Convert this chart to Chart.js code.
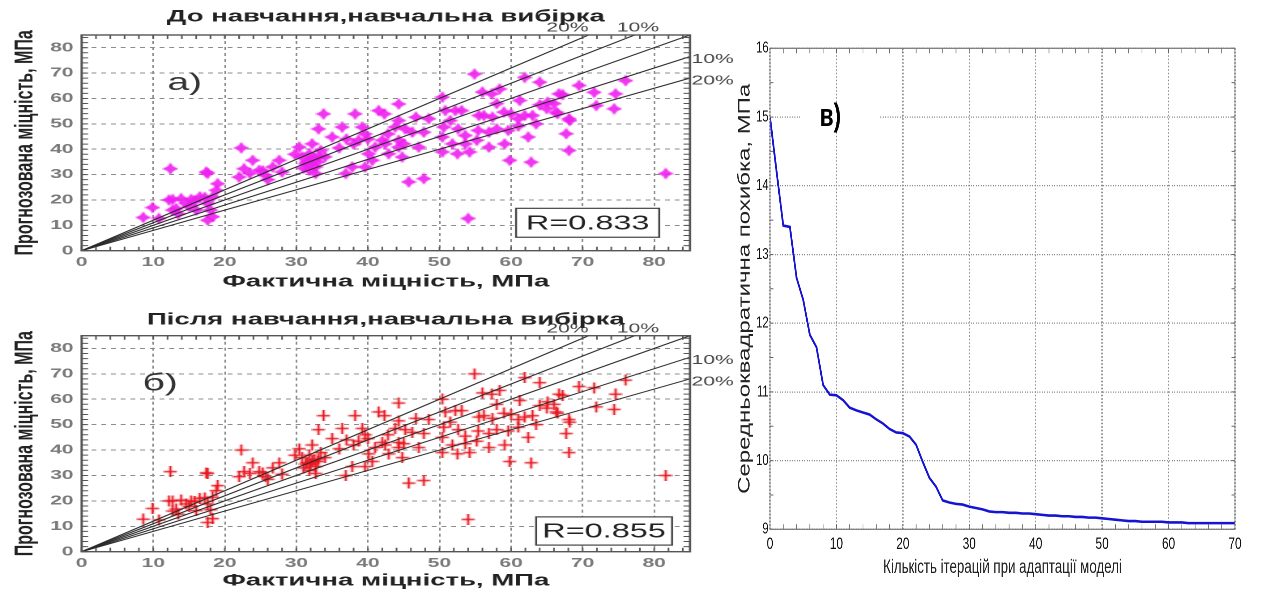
<!DOCTYPE html>
<html>
<head>
<meta charset="utf-8">
<script src="https://cdn.jsdelivr.net/npm/chart.js@4.4.1/dist/chart.umd.min.js"></script>
<style>
  html, body { margin: 0; padding: 0; background: #fff; }
  body { width: 1279px; height: 594px; position: relative; overflow: hidden; }
  .panel { position: absolute; transform-origin: 0 0; }
</style>
</head>
<body>
<div class="panel" style="left:0;top:0;transform:scaleX(1.62)"><canvas id="chartA"></canvas></div>
<div class="panel" style="left:0;top:301px;transform:scaleX(1.62)"><canvas id="chartB"></canvas></div>
<div class="panel" style="left:730px;top:0;transform:scaleX(0.7)"><canvas id="chartC"></canvas></div>
<script>
// --- data ---
const scatterTicks = [0, 10, 20, 30, 40, 50, 60, 70, 80];
const bandSlopes = [1.2, 1.1, 1.0, 0.9, 0.8];

const actualStrength = [
  8.6, 9.9, 10.8, 12.4, 12.2, 12.7, 13.2, 12.7, 13.9, 13.5, 14.6, 15.3, 15.0, 16.0, 16.5, 15.8, 17.6, 17.2, 18.3, 18.8, 19.0, 17.6, 18.3, 17.4, 17.6, 18.0,
  22.3, 22.0, 22.7, 23.9, 24.8, 25.7, 25.3, 26.7, 27.6, 28.0, 26.0, 23.5,
  29.8, 30.4, 30.8, 31.3, 31.8, 32.2, 32.7, 33.1, 31.8, 32.7, 33.4, 32.2, 33.8, 33.1, 31.5, 32.0, 32.5, 33.0, 31.0, 34.0,
  35.0, 36.4, 36.9, 37.8, 38.2, 38.7, 39.6, 39.2, 40.1, 40.6, 41.0, 39.6, 41.5, 42.0, 42.8, 43.8, 44.3, 44.3, 45.0, 45.2,
  45.7, 47.8, 37.0, 38.0, 40.0, 36.0, 42.3, 42.4, 42.9, 44.8, 44.3, 44.3, 46.7, 46.2, 47.8, 47.1, 48.5,
  50.4, 54.9, 61.9, 64.0, 58.4, 57.3, 56.0, 66.7, 69.5, 71.6, 74.6, 76.0, 71.9, 74.4, 61.2, 68.1, 67.7, 68.1, 59.8, 62.8,
  54.0, 81.6, 50.8, 52.2, 53.1, 51.5, 50.6, 52.6, 55.5, 56.2, 57.4, 59.0, 60.0, 61.9, 63.0, 61.0, 53.6, 55.4, 56.9, 58.0,
  59.6, 62.4, 61.0, 50.4, 51.8, 53.6, 52.5, 54.2, 50.4, 56.9, 59.1, 55.2, 65.0, 66.0, 63.5, 66.5, 58.0, 64.0,
  67.2, 65.1, 66.3, 68.2
];
const predictedBefore = [
  13.1, 17.0, 12.7, 32.3, 20.0, 20.2, 16.6, 16.0, 20.5, 14.5, 18.6, 20.2, 17.5, 16.0, 21.2, 19.5, 18.6, 21.0, 21.2, 23.8, 26.4, 12.0, 13.4, 31.0, 30.5, 16.0,
  40.5, 29.0, 32.3, 35.6, 31.7, 29.7, 31.5, 33.0, 35.6, 31.0, 28.0, 30.5,
  38.0, 40.8, 36.9, 34.3, 38.2, 35.6, 33.0, 36.9, 31.7, 30.4, 39.5, 42.1, 53.9, 48.0, 35.0, 34.0, 36.5, 35.0, 32.5, 37.0,
  44.8, 48.7, 30.4, 33.0, 53.9, 43.5, 46.0, 48.7, 38.2, 35.6, 40.8, 33.0, 55.2, 43.5, 46.0, 48.7, 57.8, 40.8, 42.1, 48.0,
  27.1, 28.4, 44.0, 42.0, 44.0, 40.5, 53.9, 42.1, 38.2, 36.9, 51.3, 43.5, 52.6, 46.7, 46.7, 40.8, 52.0,
  60.5, 69.6, 68.3, 66.4, 63.7, 61.8, 62.5, 61.8, 65.1, 62.4, 61.8, 67.0, 57.2, 55.9, 59.2, 52.0, 46.1, 39.5, 35.6, 34.9,
  12.7, 30.4, 55.2, 55.2, 55.2, 51.3, 48.7, 48.0, 53.3, 53.3, 52.6, 54.6, 53.9, 53.3, 53.3, 52.0, 45.4, 47.4, 46.7, 48.0,
  47.4, 44.8, 49.1, 44.8, 42.1, 42.1, 38.2, 38.9, 38.9, 40.8, 42.1, 43.5, 56.0, 58.0, 50.0, 54.0, 58.0, 57.5,
  61.5, 58.5, 54.6, 51.3
];
const predictedAfter = [
  12.8, 17.0, 12.5, 31.5, 20.0, 20.0, 16.8, 16.0, 20.3, 14.8, 18.8, 20.0, 17.8, 16.2, 21.0, 19.8, 18.8, 21.2, 21.5, 24.0, 26.0, 11.5, 13.0, 31.0, 30.8, 16.5,
  40.0, 29.5, 31.5, 35.0, 31.5, 29.5, 31.0, 33.0, 35.0, 30.5, 28.5, 30.8,
  38.0, 40.5, 37.0, 34.5, 38.0, 35.5, 33.5, 36.5, 32.0, 30.8, 39.0, 42.0, 53.5, 48.0, 35.0, 34.5, 36.0, 35.5, 33.0, 37.0,
  44.5, 48.5, 30.0, 33.5, 53.5, 43.5, 46.0, 48.5, 38.5, 35.5, 41.0, 33.5, 55.0, 43.0, 46.0, 48.5, 58.5, 41.0, 42.5, 48.0,
  27.0, 28.0, 44.0, 42.0, 44.5, 40.5, 53.5, 42.0, 38.5, 37.0, 51.5, 43.0, 52.5, 47.0, 46.5, 41.0, 52.0,
  60.0, 70.0, 68.5, 66.5, 63.5, 62.0, 62.5, 62.0, 65.0, 64.5, 62.0, 67.5, 57.0, 56.0, 59.5, 52.0, 46.5, 39.0, 35.5, 35.0,
  12.7, 30.0, 55.0, 55.5, 55.5, 51.0, 49.0, 48.0, 53.0, 53.5, 52.5, 54.5, 54.0, 53.0, 53.5, 52.0, 45.5, 47.5, 46.5, 48.0,
  47.5, 45.0, 49.0, 45.0, 42.0, 42.5, 38.5, 39.0, 39.0, 41.0, 42.0, 43.5, 56.5, 58.0, 50.0, 54.5, 58.0, 57.5,
  61.5, 59.0, 55.0, 51.0
];

const iterTicks = [0, 10, 20, 30, 40, 50, 60, 70];
const errorTicks = [9, 10, 11, 12, 13, 14, 15, 16];
const iterations = [
  0, 1, 2, 3, 4, 5, 6, 7, 8, 9, 10, 11, 12, 13, 14, 15, 16, 17, 18, 19, 20,
  21, 22, 23, 24, 25, 26, 27, 28, 29, 30, 31, 32, 33, 34, 35, 36, 37, 38, 39, 40,
  41, 42, 43, 44, 45, 46, 47, 48, 49, 50, 51, 52, 53, 54, 55, 56, 57, 58, 59, 60,
  61, 62, 63, 64, 65, 66, 67, 68, 69, 70
];
const rmseError = [
  15.00, 14.20, 13.42, 13.40, 12.66, 12.34, 11.83, 11.65, 11.10, 10.96, 10.95,
  10.88, 10.77, 10.73, 10.70, 10.67, 10.60, 10.54, 10.46, 10.41, 10.40,
  10.35, 10.23, 9.98, 9.75, 9.62, 9.42, 9.39, 9.37, 9.36, 9.33,
  9.31, 9.29, 9.26, 9.25, 9.25, 9.24, 9.24, 9.23, 9.23, 9.22,
  9.21, 9.20, 9.20, 9.19, 9.19, 9.18, 9.18, 9.17, 9.17, 9.16,
  9.15, 9.14, 9.13, 9.12, 9.12, 9.11, 9.11, 9.11, 9.11, 9.10,
  9.10, 9.10, 9.09, 9.09, 9.09, 9.09, 9.09, 9.09, 9.09, 9.09
];

const FONT = '"Liberation Sans", Arial, sans-serif';

// marker glyphs
function starMarker(color) {
  const c = document.createElement('canvas');
  c.width = 10; c.height = 12;
  const g = c.getContext('2d');
  const cx = 5, cy = 6, w = 5, h = 6, r = 0.38;
  g.fillStyle = color;
  g.globalAlpha = 0.9;
  g.beginPath();
  g.moveTo(cx, cy - h);
  g.lineTo(cx + w * r, cy - h * r);
  g.lineTo(cx + w, cy);
  g.lineTo(cx + w * r, cy + h * r);
  g.lineTo(cx, cy + h);
  g.lineTo(cx - w * r, cy + h * r);
  g.lineTo(cx - w, cy);
  g.lineTo(cx - w * r, cy - h * r);
  g.closePath();
  g.fill();
  return c;
}

function plusMarker(color) {
  const c = document.createElement('canvas');
  c.width = 9; c.height = 11;
  const g = c.getContext('2d');
  g.strokeStyle = color;
  g.lineWidth = 1.4;
  g.beginPath();
  g.moveTo(0.5, 5.5); g.lineTo(8.5, 5.5);
  g.moveTo(4.5, 0); g.lineTo(4.5, 11);
  g.stroke();
  return c;
}

function innerTicks(chart, xStep, yStep, len, color) {
  const { ctx, chartArea: a, scales: { x, y } } = chart;
  ctx.save();
  ctx.strokeStyle = color;
  ctx.lineWidth = 1;
  ctx.beginPath();
  for (let v = x.min; v <= x.max + 1e-9; v += xStep) {
    const px = x.getPixelForValue(v);
    ctx.moveTo(px, a.bottom); ctx.lineTo(px, a.bottom - len);
    ctx.moveTo(px, a.top); ctx.lineTo(px, a.top + len);
  }
  for (let v = y.min; v <= y.max + 1e-9; v += yStep) {
    const py = y.getPixelForValue(v);
    ctx.moveTo(a.left, py); ctx.lineTo(a.left + len, py);
    ctx.moveTo(a.right, py); ctx.lineTo(a.right - len, py);
  }
  ctx.stroke();
  ctx.restore();
}

function scatterDecor(opts) {
  return {
    id: 'scatterDecor',
    afterDatasetsDraw(chart) {
      const { ctx, chartArea: a, scales: { x, y } } = chart;
      innerTicks(chart, 2, 2, 4, '#555');
      ctx.save();
      ctx.strokeStyle = '#555';
      ctx.lineWidth = 1.4;
      ctx.strokeRect(a.left, a.top, a.right - a.left, a.bottom - a.top);

      // band labels
      ctx.fillStyle = '#444';
      ctx.font = '13px ' + FONT;
      ctx.textBaseline = 'middle';
      ctx.textAlign = 'center';
      ctx.fillText('20%', x.getPixelForValue(85 / 1.2) - 13, a.top - 7);
      ctx.fillText('10%', x.getPixelForValue(85 / 1.1) + 2, a.top - 7);
      ctx.textAlign = 'left';
      ctx.fillText('10%', a.right + 1, y.getPixelForValue(85 * 0.9) + 3);
      ctx.fillText('20%', a.right + 1, y.getPixelForValue(85 * 0.8) + 3);

      // panel letter
      ctx.fillStyle = '#333';
      ctx.font = '24px ' + FONT;
      ctx.fillText(opts.letter, x.getPixelForValue(opts.letterAt[0]), y.getPixelForValue(opts.letterAt[1]));

      // R box
      const bx0 = x.getPixelForValue(opts.rBox[0]), by0 = y.getPixelForValue(opts.rBox[1]);
      const bx1 = x.getPixelForValue(opts.rBox[2]), by1 = y.getPixelForValue(opts.rBox[3]);
      ctx.fillStyle = '#fff';
      ctx.fillRect(bx0, by0, bx1 - bx0, by1 - by0);
      ctx.strokeStyle = '#444';
      ctx.lineWidth = 1.2;
      ctx.strokeRect(bx0, by0, bx1 - bx0, by1 - by0);
      ctx.fillStyle = '#222';
      ctx.font = '20px ' + FONT;
      ctx.textAlign = 'center';
      ctx.fillText(opts.rText, (bx0 + bx1) / 2, (by0 + by1) / 2 + 1);

      // title
      ctx.font = 'bold 17px ' + FONT;
      ctx.fillStyle = '#222';
      ctx.fillText(opts.title, (a.left + a.right) / 2, opts.titleY);
      ctx.restore();
    }
  };
}

function buildScatter(id, opts) {
  const canvas = document.getElementById(id);
  canvas.width = 457;
  canvas.height = opts.height;
  const points = opts.actual.map((v, i) => ({ x: v, y: opts.predicted[i] }));
  const lines = bandSlopes.map(k => ({
    data: [{ x: 0, y: 0 }, { x: 85, y: 85 * k }],
    showLine: true,
    borderColor: '#2b2b2b',
    borderWidth: 1,
    pointRadius: 0,
    order: 0
  }));
  return new Chart(canvas.getContext('2d'), {
    type: 'scatter',
    data: {
      datasets: [...lines, {
        data: points,
        pointStyle: opts.marker,
        pointRadius: 5,
        order: 1
      }]
    },
    options: {
      responsive: false,
      animation: false,
      devicePixelRatio: 2,
      events: [],
      layout: { padding: { top: opts.chartTop, right: 457 - 425.9, left: 0, bottom: 0 } },
      plugins: { legend: { display: false }, tooltip: { enabled: false } },
      scales: {
        x: {
          type: 'linear', min: 0, max: 85,
          afterFit: s => { s.height = opts.height - opts.chartBottom; },
          afterBuildTicks: s => { s.ticks = scatterTicks.map(v => ({ value: v })); },
          grid: { color: '#8c8c8c', lineWidth: 1, drawTicks: false },
          border: { display: false, dash: [3, 3] },
          ticks: { font: { family: FONT, size: 13, weight: 'bold' }, color: '#7a7a7a', padding: 4, maxRotation: 0 },
          title: {
            display: true, text: 'Фактична міцність, МПа', color: '#222',
            font: { family: FONT, size: 17, weight: 'bold', lineHeight: 1.2 },
            padding: { top: 0, bottom: opts.xTitlePad }
          }
        },
        y: {
          type: 'linear', min: 0, max: 85,
          afterFit: s => { s.width = 50.4; },
          afterBuildTicks: s => { s.ticks = scatterTicks.map(v => ({ value: v })); },
          grid: { color: '#8c8c8c', lineWidth: 1, drawTicks: false },
          border: { display: false, dash: [3, 3] },
          ticks: { font: { family: FONT, size: 13, weight: 'bold' }, color: '#7a7a7a', padding: 5 },
          title: {
            display: true, text: 'Прогнозована міцність, МПа', color: '#222',
            font: { family: FONT, size: 16, weight: 'bold', lineHeight: 1.2 },
            padding: { top: 6, bottom: 0 }
          }
        }
      }
    },
    plugins: [scatterDecor(opts)]
  });
}

buildScatter('chartA', {
  height: 297, chartTop: 35, chartBottom: 250.7, xTitlePad: 5, titleY: 17,
  actual: actualStrength, predicted: predictedBefore,
  marker: starMarker('#f01ef0'),
  title: 'До навчання,навчальна вибірка',
  letter: 'а)', letterAt: [12, 66],
  rText: 'R=0.833', rBox: [60.7, 16.7, 80.7, 5.3]
});

buildScatter('chartB', {
  height: 293, chartTop: 34.7, chartBottom: 250.7, xTitlePad: 3, titleY: 19,
  actual: actualStrength, predicted: predictedAfter,
  marker: plusMarker('#e8141e'),
  title: 'Після навчання,навчальна вибірка',
  letter: 'б)', letterAt: [8.5, 66],
  rText: 'R=0.855', rBox: [63.5, 13.7, 82.5, 2.6]
});

// --- convergence chart ---
const errDecor = {
  id: 'errDecor',
  afterDatasetsDraw(chart) {
    const { ctx, chartArea: a, scales: { x, y } } = chart;
    innerTicks(chart, 2, 0.5, 5, '#666');
    ctx.save();
    ctx.strokeStyle = '#777';
    ctx.lineWidth = 1.2;
    ctx.strokeRect(a.left, a.top, a.right - a.left, a.bottom - a.top);
    // label patch + letter
    const px0 = x.getPixelForValue(4.5), px1 = x.getPixelForValue(16.5);
    const py = y.getPixelForValue(15);
    ctx.fillStyle = '#fff';
    ctx.fillRect(px0, py - 3, px1 - px0, 6);
    ctx.fillStyle = '#000';
    ctx.font = 'bold 32px ' + FONT;
    ctx.textAlign = 'left';
    ctx.textBaseline = 'middle';
    ctx.fillText('в)', x.getPixelForValue(7.5), py);
    ctx.restore();
  }
};

(function buildError() {
  const canvas = document.getElementById('chartC');
  canvas.width = 784;
  canvas.height = 594;
  new Chart(canvas.getContext('2d'), {
    type: 'scatter',
    data: {
      datasets: [{
        data: iterations.map((v, i) => ({ x: v, y: rmseError[i] })),
        showLine: true,
        borderColor: '#1414d2',
        borderWidth: 2.6,
        pointRadius: 0,
        tension: 0
      }]
    },
    options: {
      responsive: false,
      animation: false,
      devicePixelRatio: 2,
      events: [],
      layout: { padding: { top: 48.3, right: 784 - 721.4, left: 0, bottom: 0 } },
      plugins: { legend: { display: false }, tooltip: { enabled: false } },
      scales: {
        x: {
          type: 'linear', min: 0, max: 70,
          afterFit: s => { s.height = 594 - 529.3; },
          afterBuildTicks: s => { s.ticks = iterTicks.map(v => ({ value: v })); },
          grid: { color: '#8a8a8a', lineWidth: 2, drawTicks: false },
          border: { display: false, dash: [1.5, 2] },
          ticks: { font: { family: FONT, size: 17 }, color: '#111', padding: 5, maxRotation: 0 },
          title: {
            display: true, text: 'Кількість ітерацій при адаптації моделі', color: '#222',
            font: { family: FONT, size: 19, lineHeight: 1.2 },
            padding: { top: 0, bottom: 15 }
          }
        },
        y: {
          type: 'linear', min: 9, max: 16,
          afterFit: s => { s.width = 57.1; },
          afterBuildTicks: s => { s.ticks = errorTicks.map(v => ({ value: v })); },
          grid: { color: '#8a8a8a', lineWidth: 1.2, drawTicks: false },
          border: { display: false, dash: [1.5, 2] },
          ticks: { font: { family: FONT, size: 16 }, color: '#111', padding: 2 },
          title: {
            display: true, text: 'Середньоквадратична похибка, МПа', color: '#222',
            font: { family: FONT, size: 24, lineHeight: 1.2 },
            padding: { top: 7, bottom: 0 }
          }
        }
      }
    },
    plugins: [errDecor]
  });
})();
</script>
</body>
</html>
